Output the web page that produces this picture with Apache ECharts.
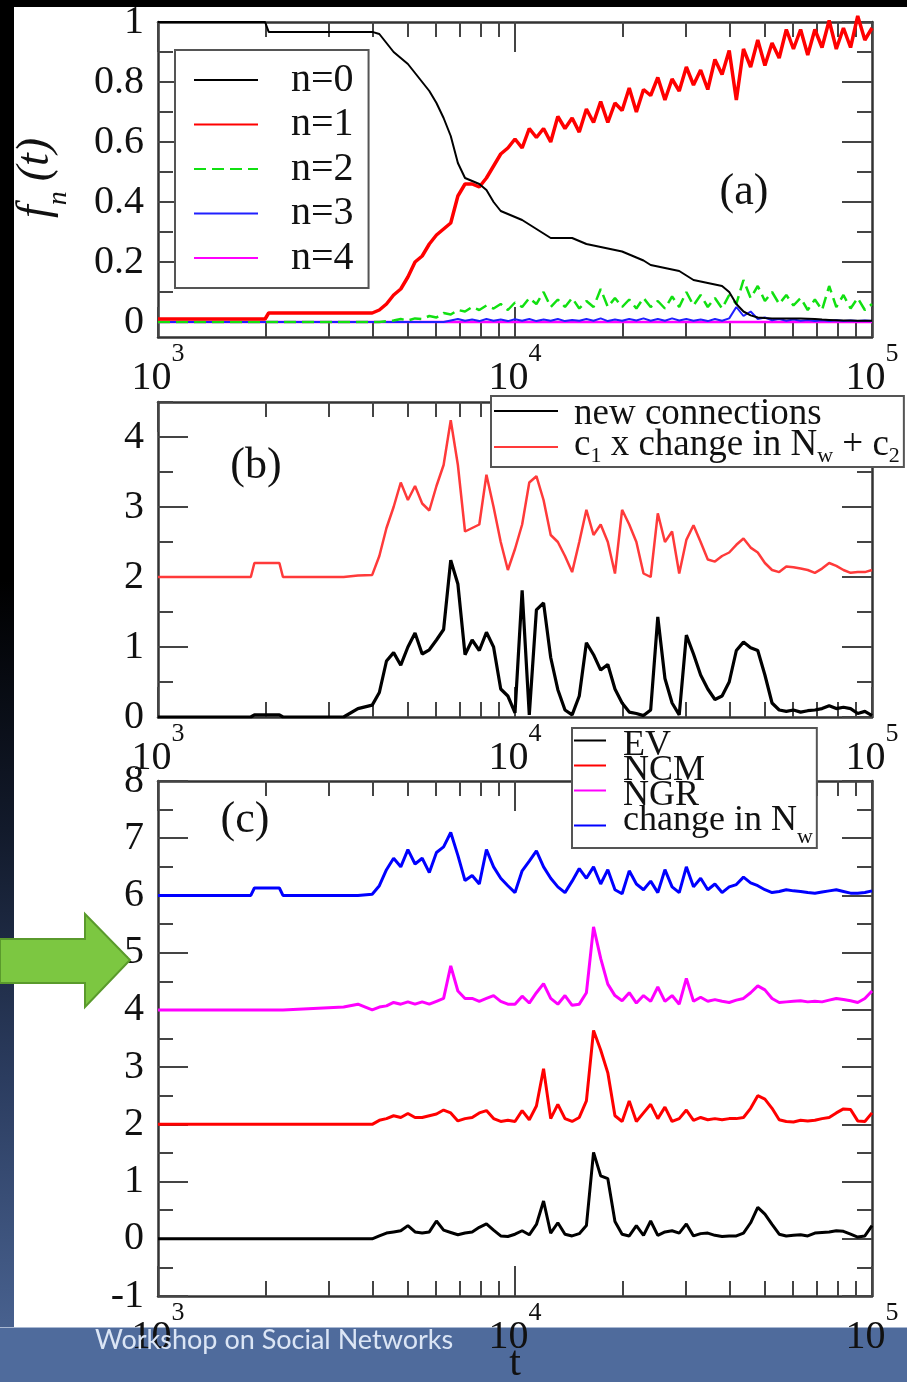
<!DOCTYPE html>
<html>
<head>
<meta charset="utf-8">
<script src="https://cdn.jsdelivr.net/npm/echarts@6/dist/echarts.min.js"></script>
<style>
html, body { margin: 0; padding: 0; background: #000; }
#slide { position: relative; width: 907px; height: 1382px; overflow: hidden; background: #000; }
#strip { position: absolute; left: 0; top: 0; width: 14px; height: 1382px;
  background: linear-gradient(to bottom, #000 0%, #000 42%, #121a2b 60%, #2b3c5f 78%, #4e6999 100%); }
#paper { position: absolute; left: 14px; top: 7px; width: 893px; height: 1320px; background: #fff; }
#band { position: absolute; left: 0; top: 1327px; width: 907px; height: 55px; background: #4f6b9c; border-top: 1px solid #a9b8d2; }
#chart { position: absolute; left: 0; top: 0; width: 907px; height: 1382px; }
</style>
</head>
<body>
<div id="slide">
  <div id="strip"></div>
  <div id="paper"></div>
  <div id="band"></div>
  <div id="chart"></div>
</div>
<script>
// time grid, as log10(t)
var logT = [
  3.00, 3.26, 3.27, 3.30, 3.31, 3.34, 3.35, 3.52, 3.56,
  3.60, 3.62, 3.64, 3.66, 3.68, 3.70, 3.72, 3.74, 3.76, 3.78,
  3.80, 3.82, 3.84, 3.86, 3.88, 3.90, 3.92, 3.94, 3.96, 3.98,
  4.00, 4.02, 4.04, 4.06, 4.08, 4.10, 4.12, 4.14, 4.16, 4.18,
  4.20, 4.22, 4.24, 4.26, 4.28, 4.30, 4.32, 4.34, 4.36, 4.38,
  4.40, 4.42, 4.44, 4.46, 4.48, 4.50, 4.52, 4.54, 4.56, 4.58,
  4.60, 4.62, 4.64, 4.66, 4.68, 4.70, 4.72, 4.74, 4.76, 4.78,
  4.80, 4.82, 4.84, 4.86, 4.88, 4.90, 4.92, 4.94, 4.96, 4.98, 5.00
];

// panel (a): f_n(t)
var fn0 = [
  1, 1, 1, 1, 0.967, 0.967, 0.967, 0.967, 0.967,
  0.967, 0.96, 0.93, 0.90, 0.88, 0.86, 0.83, 0.80, 0.77, 0.73,
  0.68, 0.62, 0.53, 0.48, 0.47, 0.46, 0.44, 0.40, 0.37, 0.36,
  0.35, 0.34, 0.325, 0.31, 0.295, 0.28, 0.28, 0.28, 0.28, 0.27,
  0.26, 0.255, 0.25, 0.245, 0.24, 0.235, 0.225, 0.215, 0.205, 0.19,
  0.185, 0.18, 0.175, 0.17, 0.155, 0.14, 0.135, 0.13, 0.125, 0.12,
  0.10, 0.06, 0.035, 0.022, 0.015, 0.013, 0.012, 0.012, 0.012, 0.012,
  0.012, 0.011, 0.01, 0.008, 0.007, 0.006, 0.005, 0.005, 0.004, 0.004, 0.004
];
var fn1 = [
  0.01, 0.01, 0.01, 0.01, 0.03, 0.03, 0.03, 0.03, 0.03,
  0.03, 0.04, 0.06, 0.09, 0.11, 0.15, 0.20, 0.22, 0.26, 0.29,
  0.31, 0.33, 0.42, 0.46, 0.46, 0.45, 0.48, 0.52, 0.56, 0.58,
  0.61, 0.58, 0.645, 0.615, 0.645, 0.60, 0.685, 0.645, 0.68, 0.633,
  0.71, 0.665, 0.735, 0.665, 0.73, 0.705, 0.78, 0.70, 0.775, 0.755,
  0.815, 0.74, 0.81, 0.77, 0.85, 0.79, 0.84, 0.775, 0.875, 0.825,
  0.905, 0.74, 0.91, 0.85, 0.94, 0.855, 0.93, 0.88, 0.975, 0.91,
  0.975, 0.89, 0.975, 0.915, 1.005, 0.91, 0.98, 0.915, 1.02, 0.94, 0.98
];
var fn2 = [
  0, 0, 0, 0, 0, 0, 0, 0, 0,
  0, 0, 0.003, 0.005, 0.01, 0.005, 0.012, 0.01, 0.02, 0.015,
  0.03, 0.025, 0.04, 0.035, 0.05, 0.04, 0.055, 0.045, 0.06, 0.04,
  0.065, 0.05, 0.08, 0.06, 0.10, 0.05, 0.075, 0.05, 0.08, 0.045,
  0.07, 0.05, 0.11, 0.05, 0.08, 0.05, 0.075, 0.045, 0.08, 0.05,
  0.07, 0.045, 0.085, 0.05, 0.10, 0.055, 0.09, 0.05, 0.08, 0.045,
  0.09, 0.06, 0.14, 0.08, 0.12, 0.07, 0.10, 0.06, 0.09, 0.055,
  0.08, 0.04, 0.075, 0.04, 0.12, 0.05, 0.09, 0.045, 0.08, 0.04, 0.06
];
var fn3 = [
  0, 0, 0, 0, 0, 0, 0, 0, 0,
  0, 0, 0, 0, 0, 0, 0, 0, 0, 0,
  0, 0.005, 0.01, 0.004, 0.008, 0.003, 0.01, 0.004, 0.008, 0.003,
  0.009, 0.004, 0.01, 0.003, 0.008, 0.004, 0.01, 0.003, 0.007, 0.004,
  0.01, 0.004, 0.012, 0.003, 0.008, 0.004, 0.01, 0.005, 0.012, 0.004,
  0.01, 0.004, 0.012, 0.005, 0.01, 0.004, 0.008, 0.003, 0.01, 0.004,
  0.012, 0.05, 0.02, 0.035, 0.01, 0.015, 0.006, 0.01, 0.004, 0.008,
  0.004, 0.007, 0.003, 0.006, 0.003, 0.006, 0.003, 0.005, 0.003, 0.005, 0.003
];
var fn4 = [
  0, 0, 0, 0, 0, 0, 0, 0, 0,
  0, 0, 0, 0, 0, 0, 0, 0, 0, 0,
  0, 0, 0, 0, 0, 0, 0, 0, 0, 0,
  0, 0, 0, 0, 0, 0, 0, 0, 0, 0,
  0, 0, 0, 0, 0, 0, 0, 0, 0, 0,
  0, 0, 0, 0, 0, 0, 0, 0, 0, 0,
  0, 0, 0, 0, 0, 0, 0, 0, 0, 0,
  0, 0, 0, 0, 0, 0, 0, 0, 0, 0, 0
];

// panel (b)
var newConn = [
  0, 0, 0.03, 0.03, 0.03, 0.03, 0, 0, 0.12,
  0.17, 0.35, 0.8, 0.92, 0.74, 1.0, 1.2, 0.9, 0.96, 1.1,
  1.25, 2.24, 1.9, 0.89, 1.1, 0.95, 1.21, 1.0, 0.4, 0.3,
  0.06, 1.81, 0.03, 1.53, 1.63, 0.85, 0.39, 0.1, 0.03, 0.3,
  1.06, 0.89, 0.67, 0.75, 0.4, 0.2, 0.07, 0.05, 0.02, 0.1,
  1.43, 0.55, 0.2, 0.03, 1.17, 0.9, 0.6, 0.4, 0.25, 0.3,
  0.5, 0.95, 1.07, 0.99, 0.95, 0.6, 0.2, 0.1, 0.08, 0.1,
  0.07, 0.09, 0.1, 0.12, 0.16, 0.12, 0.14, 0.12, 0.05, 0.08, 0.02
];
var scaledNw = [
  2.0, 2.0, 2.2, 2.2, 2.2, 2.2, 2.0, 2.0, 2.02,
  2.03, 2.3, 2.7, 3.0, 3.35, 3.1, 3.3, 3.05, 2.95, 3.3,
  3.6, 4.24, 3.6, 2.65, 2.7, 2.75, 3.46, 3.0, 2.5, 2.1,
  2.4, 2.75, 3.35, 3.44, 3.1, 2.6, 2.5, 2.3, 2.07, 2.5,
  2.96, 2.6, 2.75, 2.5, 2.05, 2.96, 2.75, 2.5, 2.05, 2.0,
  2.91, 2.5, 2.65, 2.05, 2.53, 2.74, 2.5, 2.25, 2.22, 2.3,
  2.35, 2.46, 2.55, 2.42, 2.35, 2.2, 2.1, 2.07, 2.15, 2.14,
  2.12, 2.1, 2.06, 2.12, 2.2, 2.16, 2.1, 2.06, 2.07, 2.07, 2.1
];

// panel (c)
var evVals = [
  0, 0, 0, 0, 0, 0, 0, 0, 0,
  0.0, 0.05, 0.1, 0.12, 0.14, 0.23, 0.12, 0.1, 0.12, 0.31,
  0.15, 0.11, 0.07, 0.1, 0.12, 0.2, 0.26, 0.15, 0.05, 0.04,
  0.08, 0.14, 0.07, 0.25, 0.66, 0.1, 0.28, 0.08, 0.05, 0.09,
  0.23, 1.51, 1.1, 1.05, 0.3, 0.08, 0.05, 0.23, 0.06, 0.31,
  0.06, 0.12, 0.14, 0.1, 0.26, 0.05, 0.09, 0.1, 0.06, 0.04,
  0.05, 0.05, 0.1, 0.28, 0.55, 0.43, 0.25, 0.08, 0.05, 0.06,
  0.07, 0.05, 0.1, 0.11, 0.12, 0.14, 0.13, 0.08, 0.03, 0.05, 0.23
];
var ncmVals = [
  2.0, 2.0, 2.0, 2.0, 2.0, 2.0, 2.0, 2.0, 2.0,
  2.0, 2.07, 2.1, 2.15, 2.12, 2.19, 2.12, 2.12, 2.15, 2.18,
  2.25, 2.2, 2.06, 2.1, 2.12, 2.2, 2.24, 2.1, 2.05, 2.07,
  2.05, 2.24, 2.08, 2.32, 2.97, 2.1, 2.35, 2.1, 2.05, 2.12,
  2.41, 3.64, 3.3, 2.9, 2.15, 2.05, 2.41, 2.05, 2.2, 2.35,
  2.1, 2.3, 2.05, 2.1, 2.25, 2.07, 2.12, 2.08, 2.1, 2.08,
  2.1, 2.1, 2.12, 2.28, 2.5, 2.44, 2.28, 2.08, 2.05, 2.04,
  2.07, 2.06, 2.07, 2.1, 2.12, 2.2, 2.27, 2.26, 2.06, 2.05, 2.2
];
var ngrVals = [
  4.0, 4.0, 4.0, 4.0, 4.0, 4.0, 4.0, 4.05, 4.1,
  4.0, 4.05, 4.07, 4.13, 4.1, 4.14, 4.1, 4.14, 4.1, 4.15,
  4.2, 4.77, 4.33, 4.2, 4.2, 4.15, 4.2, 4.25, 4.15, 4.1,
  4.1, 4.24, 4.12, 4.3, 4.46, 4.2, 4.1, 4.25, 4.08, 4.1,
  4.3, 5.45, 4.9, 4.45, 4.25, 4.16, 4.3, 4.12, 4.25, 4.15,
  4.4, 4.15, 4.25, 4.1, 4.55, 4.15, 4.22, 4.15, 4.18, 4.15,
  4.13, 4.17, 4.2, 4.3, 4.42, 4.35, 4.2, 4.13, 4.14, 4.15,
  4.16, 4.14, 4.15, 4.14, 4.17, 4.2, 4.18, 4.16, 4.13, 4.2, 4.33
];
var nwVals = [
  6.0, 6.0, 6.13, 6.13, 6.13, 6.13, 6.0, 6.0, 6.0,
  6.02, 6.17, 6.45, 6.65, 6.5, 6.8, 6.55, 6.65, 6.4, 6.75,
  6.85, 7.1, 6.7, 6.26, 6.35, 6.2, 6.8, 6.5, 6.3, 6.17,
  6.05, 6.43, 6.6, 6.78, 6.5, 6.3, 6.15, 6.05, 6.25, 6.47,
  6.3, 6.5, 6.2, 6.45, 6.1, 6.03, 6.43, 6.2, 6.1, 6.25,
  6.05, 6.45, 6.15, 6.05, 6.5, 6.15, 6.3, 6.1, 6.2, 6.05,
  6.15, 6.19, 6.32, 6.22, 6.17, 6.1, 6.05, 6.07, 6.1, 6.08,
  6.07, 6.05, 6.04, 6.06, 6.08, 6.1, 6.07, 6.04, 6.04, 6.05, 6.08
];

// ticks
var xMajor = [1000, 10000, 100000];
var xMinor = [2000, 3000, 4000, 5000, 6000, 7000, 8000, 9000,
  20000, 30000, 40000, 50000, 60000, 70000, 80000, 90000];
var yRange = [[-0.05, 1], [0, 4.5], [-1, 8]];
var yMajor = [[0, 0.2, 0.4, 0.6, 0.8, 1], [0, 1, 2, 3, 4], [-1, 0, 1, 2, 3, 4, 5, 6, 7, 8]];
var yMinor = [[0.1, 0.3, 0.5, 0.7, 0.9], [0.5, 1.5, 2.5, 3.5, 4.5],
  [-0.5, 0.5, 1.5, 2.5, 3.5, 4.5, 5.5, 6.5, 7.5]];

var serif = '"Liberation Serif", "Times New Roman", serif';
var ink = '#111';
var frameLine = { color: '#333', width: 2.5 };
var tickLine = { color: '#444', width: 2 };

var grids = [
  { left: 158, top: 22, width: 714, height: 315 },
  { left: 158, top: 402, width: 714, height: 315 },
  { left: 158, top: 781, width: 714, height: 515 }
];

var xAxes = [], yAxes = [];
grids.forEach(function (g, gi) {
  g.outerBoundsMode = 'none';
  ['bottom', 'top'].forEach(function (pos) {
    xAxes.push({
      type: 'log', logBase: 10, gridIndex: gi, position: pos, min: 1000, max: 100000,
      axisLine: { show: true, onZero: false, lineStyle: frameLine },
      axisTick: { show: true, inside: true, length: 30, customValues: xMajor, lineStyle: tickLine },
      axisLabel: pos === 'bottom' ? {
        show: true, customValues: xMajor, margin: 4, color: ink,
        formatter: function (v) { return '{b|10}{s|' + Math.round(Math.log10(v)) + '}'; },
        rich: {
          b: { fontFamily: serif, fontSize: 40, lineHeight: 57, verticalAlign: 'bottom', color: ink },
          s: { fontFamily: serif, fontSize: 26, lineHeight: 26, verticalAlign: 'top', color: ink }
        }
      } : { show: false },
      splitLine: { show: false }
    });
    xAxes.push({
      type: 'log', logBase: 10, gridIndex: gi, position: pos, min: 1000, max: 100000,
      axisLine: { show: false, onZero: false },
      axisTick: { show: true, inside: true, length: 15, customValues: xMinor, lineStyle: tickLine },
      axisLabel: { show: false }, splitLine: { show: false }
    });
  });
  ['left', 'right'].forEach(function (pos) {
    yAxes.push({
      type: 'value', gridIndex: gi, position: pos, min: yRange[gi][0], max: yRange[gi][1],
      axisLine: { show: true, onZero: false, lineStyle: frameLine },
      axisTick: { show: true, inside: true, length: 30, customValues: yMajor[gi], lineStyle: tickLine },
      axisLabel: pos === 'left' ? {
        show: true, customValues: yMajor[gi], margin: 14, color: ink,
        fontFamily: serif, fontSize: 40
      } : { show: false },
      splitLine: { show: false }
    });
    yAxes.push({
      type: 'value', gridIndex: gi, position: pos, min: yRange[gi][0], max: yRange[gi][1],
      axisLine: { show: false, onZero: false },
      axisTick: { show: true, inside: true, length: 15, customValues: yMinor[gi], lineStyle: tickLine },
      axisLabel: { show: false }, splitLine: { show: false }
    });
  });
});

function line(name, vals, color, width, gi, dash) {
  return {
    type: 'line', name: name, xAxisIndex: gi * 4, yAxisIndex: gi * 4,
    symbol: 'none', showSymbol: false, silent: true,
    data: logT.map(function (e, i) { return [Math.pow(10, e), vals[i]]; }),
    lineStyle: { color: color, width: width, type: dash || 'solid' },
    itemStyle: { color: color }
  };
}

var series = [
  line('n=0', fn0, '#000000', 2, 0),
  line('n=1', fn1, '#ff0000', 3.5, 0),
  line('n=2', fn2, '#11e011', 2.5, 0, [12, 6]),
  line('n=3', fn3, '#2020ff', 2, 0),
  line('n=4', fn4, '#ff00ff', 2.5, 0),
  line('new connections', newConn, '#000000', 3.2, 1),
  line('c1 x change in Nw + c2', scaledNw, '#ff3a3a', 2.5, 1),
  line('EV', evVals, '#000000', 3, 2),
  line('NCM', ncmVals, '#ff0000', 3, 2),
  line('NGR', ngrVals, '#ff00ff', 3, 2),
  line('change in Nw', nwVals, '#0000ff', 3, 2)
];
// the n=1 noise pokes slightly above the frame in the figure
series[1].clip = false;
// draw the first-listed legend series on top, as in the figure
series.forEach(function (s, i) { s.z = 2 + (series.length - i) * 0.01; });

// legend: line only, no marker dot
var legendBase = {
  orient: 'vertical', backgroundColor: '#fff', borderColor: '#555', borderWidth: 2,
  selectedMode: false, align: 'left',
  itemStyle: { color: 'rgba(0,0,0,0)', borderWidth: 0, opacity: 0 }
};

var option = {
  animation: false,
  grid: grids,
  xAxis: xAxes,
  yAxis: yAxes,
  series: series,
  legend: [
    Object.assign({}, legendBase, {
      data: ['n=0', 'n=1', 'n=2', 'n=3', 'n=4'],
      left: 175, top: 50, itemWidth: 64, itemHeight: 14, itemGap: 4.5,
      padding: [10, 15, 10, 18],
      textStyle: { fontFamily: serif, fontSize: 40, lineHeight: 40, color: ink, padding: [0, 0, 0, 28] }
    }),
    Object.assign({}, legendBase, {
      data: ['new connections', 'c1 x change in Nw + c2'],
      left: 491, top: 396, itemWidth: 64, itemHeight: 14, itemGap: -6,
      padding: [0, 4, 0, 2],
      formatter: function (name) {
        if (name === 'new connections') return '{m|new connections}';
        return '{m|c}{sub|1}{m| x change in N}{sub|w}{m| + c}{sub|2}';
      },
      textStyle: {
        color: ink, padding: [0, 0, 0, 11],
        rich: {
          m: { fontFamily: serif, fontSize: 37, lineHeight: 30, verticalAlign: 'top', color: ink },
          sub: { fontFamily: serif, fontSize: 22, lineHeight: 40, verticalAlign: 'bottom', color: ink }
        }
      }
    }),
    Object.assign({}, legendBase, {
      data: ['EV', 'NCM', 'NGR', 'change in Nw'],
      left: 572, top: 728, itemWidth: 32, itemHeight: 14, itemGap: -11,
      padding: [0, 4, 0, 1],
      formatter: function (name) {
        if (name === 'change in Nw') return '{m|change in N}{sub|w}';
        return '{m|' + name + '}';
      },
      textStyle: {
        color: ink, padding: [0, 0, 0, 12],
        rich: {
          m: { fontFamily: serif, fontSize: 36, lineHeight: 25, verticalAlign: 'top', color: ink },
          sub: { fontFamily: serif, fontSize: 22, lineHeight: 45, verticalAlign: 'bottom', color: ink }
        }
      }
    })
  ],
  graphic: [
    {
      type: 'text', x: 43, y: 178, rotation: Math.PI / 2, z: 10,
      style: {
        text: '{f|f}{n|n}{p|(t)}', align: 'center', verticalAlign: 'middle',
        rich: {
          f: { fontFamily: serif, fontStyle: 'italic', fontSize: 46, lineHeight: 46, verticalAlign: 'top', fill: ink },
          n: { fontFamily: serif, fontStyle: 'italic', fontSize: 28, lineHeight: 60, verticalAlign: 'bottom', fill: ink, padding: [0, 10, 0, 0] },
          p: { fontFamily: serif, fontStyle: 'italic', fontSize: 46, lineHeight: 46, verticalAlign: 'top', fill: ink }
        }
      }
    },
    { type: 'text', x: 744, y: 192, z: 10,
      style: { text: '(a)', font: '44px ' + serif, fill: ink, align: 'center', verticalAlign: 'middle' } },
    { type: 'text', x: 256, y: 466, z: 10,
      style: { text: '(b)', font: '44px ' + serif, fill: ink, align: 'center', verticalAlign: 'middle' } },
    { type: 'text', x: 245, y: 820, z: 10,
      style: { text: '(c)', font: '44px ' + serif, fill: ink, align: 'center', verticalAlign: 'middle' } },
    { type: 'text', x: 515, y: 1364, z: 10,
      style: { text: 't', font: '42px ' + serif, fill: '#111', align: 'center', verticalAlign: 'middle' } },
    { type: 'text', x: 95, y: 1340, z: 20,
      style: { text: 'Workshop on Social Networks', font: '27px Lato', fill: '#dbe5f5', align: 'left', verticalAlign: 'middle' } },
    {
      type: 'polygon', z: 20,
      shape: { points: [[0, 939], [85, 939], [85, 914], [130, 960], [85, 1007], [85, 983], [0, 983]] },
      style: { fill: '#7cc741', stroke: '#5a9a2c', lineWidth: 2 }
    }
  ]
};

var chart = echarts.init(document.getElementById('chart'));
chart.setOption(option);
</script>
</body>
</html>
